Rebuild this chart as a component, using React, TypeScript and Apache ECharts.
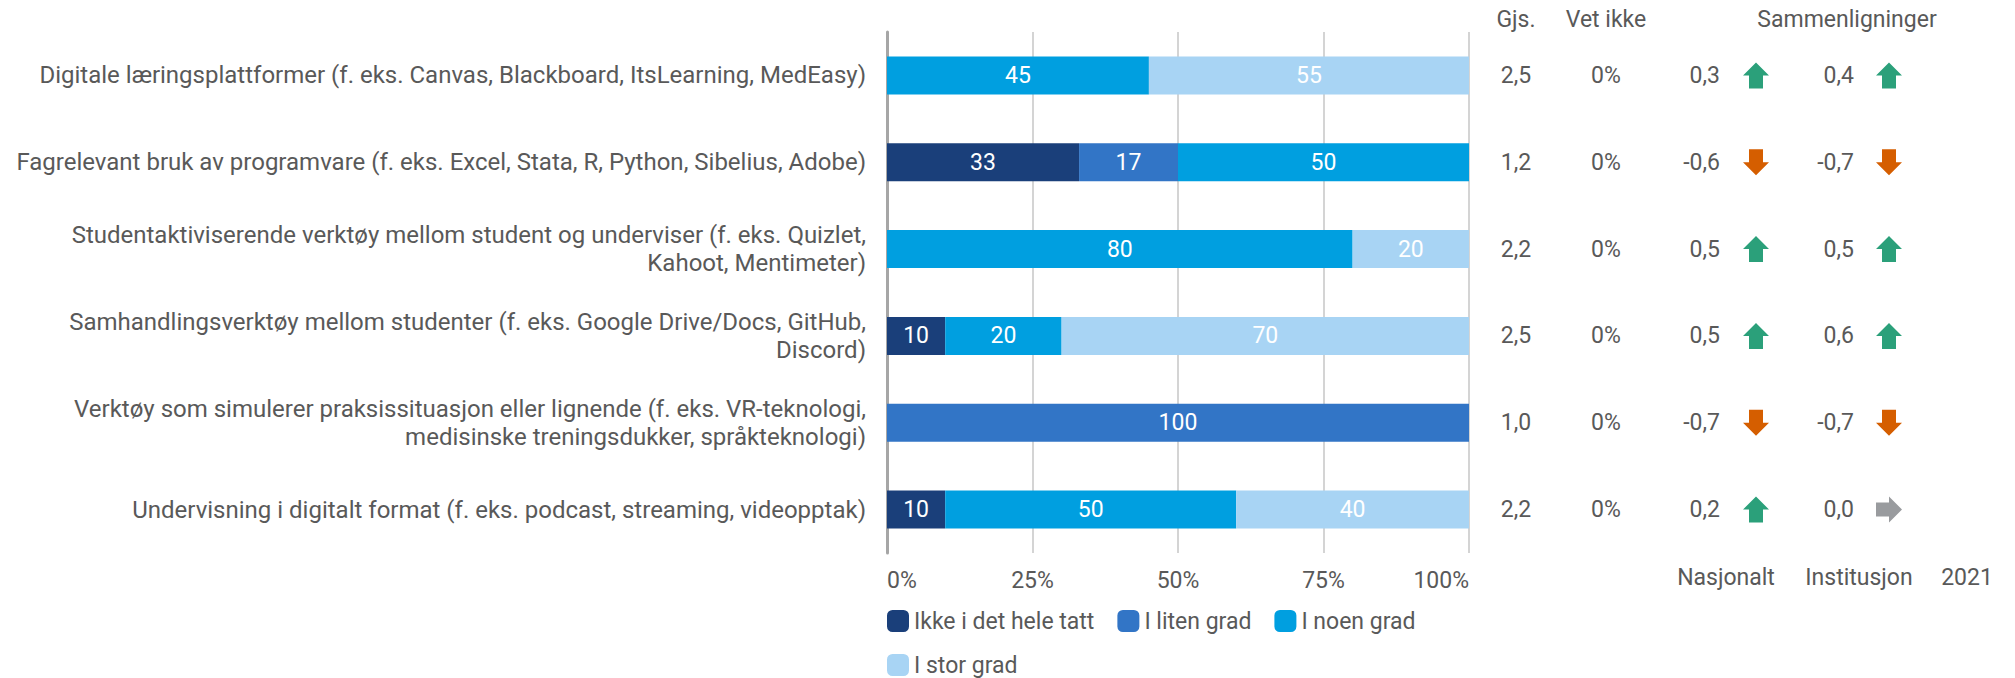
import React, { useEffect, useRef } from "react";
import * as echarts from "echarts";

const categories = [
  "Digitale læringsplattformer (f. eks. Canvas, Blackboard, ItsLearning, MedEasy)",
  "Fagrelevant bruk av programvare (f. eks. Excel, Stata, R, Python, Sibelius, Adobe)",
  "Studentaktiviserende verktøy mellom student og underviser (f. eks. Quizlet,\nKahoot, Mentimeter)",
  "Samhandlingsverktøy mellom studenter (f. eks. Google Drive/Docs, GitHub,\nDiscord)",
  "Verktøy som simulerer praksissituasjon eller lignende (f. eks. VR-teknologi,\nmedisinske treningsdukker, språkteknologi)",
  "Undervisning i digitalt format (f. eks. podcast, streaming, videopptak)",
];

const seriesNames = ["Ikke i det hele tatt", "I liten grad", "I noen grad", "I stor grad"];
const ikkeIDetHeleTatt = [0, 33, 0, 10, 0, 10];
const iLitenGrad = [0, 17, 0, 0, 100, 0];
const iNoenGrad = [45, 50, 80, 20, 0, 50];
const iStorGrad = [55, 0, 20, 70, 0, 40];
const seriesColors = ["#1a3f7a", "#3275c6", "#009fe0", "#a8d4f4"];

const xTicks = [0, 25, 50, 75, 100];

const gjs = [2.5, 1.2, 2.2, 2.5, 1.0, 2.2];
const vetIkke = [0, 0, 0, 0, 0, 0];
const nasjonalt = [0.3, -0.6, 0.5, 0.5, -0.7, 0.2];
const institusjon = [0.4, -0.7, 0.5, 0.6, -0.7, 0.0];

const headers = ["Gjs.", "Vet ikke", "Sammenligninger"];
const footers = ["Nasjonalt", "Institusjon", "2021"];

const TEXT = "#595959";
const FONT = "Roboto";
const FS = 23;

const fmt = (v: number) => v.toFixed(1).replace(".", ",");

function arrow(v: number, cx: number, cy: number) {
  let points: number[][];
  let fill: string;
  if (v > 0) {
    points = [[0, -13], [13, 0], [7, 0], [7, 13], [-7, 13], [-7, 0], [-13, 0]];
    fill = "#2ba07a";
  } else if (v < 0) {
    points = [[0, 13], [13, 0], [7, 0], [7, -13], [-7, -13], [-7, 0], [-13, 0]];
    fill = "#d55e00";
  } else {
    points = [[13, 0], [0, 13], [0, 7], [-13, 7], [-13, -7], [0, -7], [0, -13]];
    fill = "#999b9e";
  }
  return {
    type: "polygon",
    x: cx,
    y: cy,
    shape: { points },
    style: { fill },
  };
}

function txt(text: string, x: number, y: number, align: string) {
  return {
    type: "text",
    x,
    y,
    style: {
      text,
      fill: TEXT,
      fontSize: FS,
      fontFamily: FONT,
      align,
      verticalAlign: "middle",
    },
  };
}

export default function App() {
  const ref = useRef<HTMLDivElement>(null);

  useEffect(() => {
    document.body.style.margin = "0";
    if (!ref.current) return;
    const chart = echarts.init(ref.current, null, { renderer: "svg" });
    const values = [ikkeIDetHeleTatt, iLitenGrad, iNoenGrad, iStorGrad];

    const barSeries = seriesNames.map((name, k) => ({
      name,
      type: "bar",
      stack: "total",
      barWidth: 38,
      data: values[k],
      itemStyle: { color: seriesColors[k] },
      label: {
        show: true,
        position: "inside",
        color: "#ffffff",
        fontSize: FS,
        fontFamily: FONT,
        formatter: (p: any) => (p.value > 0 ? String(p.value) : ""),
      },
      emphasis: { disabled: true },
    }));

    const tableSeries = {
      type: "custom",
      name: "table",
      clip: false,
      silent: true,
      data: categories.map((_, i) => [0, i]),
      encode: { x: 0, y: 1 },
      renderItem: (params: any, api: any) => {
        const i = params.dataIndex;
        const y = api.coord([0, i])[1];
        return {
          type: "group",
          children: [
            txt(fmt(gjs[i]), 1516, y, "center"),
            txt(`${vetIkke[i]}%`, 1606, y, "center"),
            txt(fmt(nasjonalt[i]), 1720, y, "right"),
            arrow(nasjonalt[i], 1756, y),
            txt(fmt(institusjon[i]), 1854, y, "right"),
            arrow(institusjon[i], 1889, y),
          ],
        };
      },
    };

    chart.setOption({
      animation: false,
      textStyle: { fontFamily: FONT },
      grid: { left: 887, right: 546, top: 32, bottom: 125, containLabel: false },
      legend: {
        data: seriesNames,
        left: 887,
        top: 609,
        width: 583,
        padding: 0,
        itemWidth: 22,
        itemHeight: 22,
        itemGap: 20,
        icon: "roundRect",
        selectedMode: false,
        textStyle: { color: TEXT, fontSize: FS, fontFamily: FONT, lineHeight: 24, padding: [0, 3, 0, 0] },
      },
      xAxis: {
        type: "value",
        min: xTicks[0],
        max: xTicks[xTicks.length - 1],
        interval: 25,
        axisLabel: {
          formatter: "{value}%",
          color: TEXT,
          fontSize: FS,
          fontFamily: FONT,
          margin: 16,
          alignMinLabel: "left",
          alignMaxLabel: "right",
        },
        axisLine: { show: false },
        axisTick: { show: false },
        splitLine: { show: true, lineStyle: { color: "#c6c6c6", width: 1.5 } },
      },
      yAxis: {
        type: "category",
        data: categories,
        inverse: true,
        axisTick: { show: false },
        axisLine: { show: true, lineStyle: { color: "#a6a6a6", width: 3 } },
        axisLabel: {
          color: TEXT,
          fontSize: 24,
          fontFamily: FONT,
          margin: 21,
          align: "right",
          lineHeight: 28,
        },
      },
      graphic: [
        txt(headers[0], 1516, 19, "center"),
        txt(headers[1], 1606, 19, "center"),
        txt(headers[2], 1847, 19, "center"),
        txt(footers[0], 1726, 577, "center"),
        txt(footers[1], 1859, 577, "center"),
        txt(footers[2], 1967, 577, "center"),
      ],
      series: [...barSeries, tableSeries],
    });

    return () => chart.dispose();
  }, []);

  return <div ref={ref} style={{ width: 2015, height: 678 }} />;
}
